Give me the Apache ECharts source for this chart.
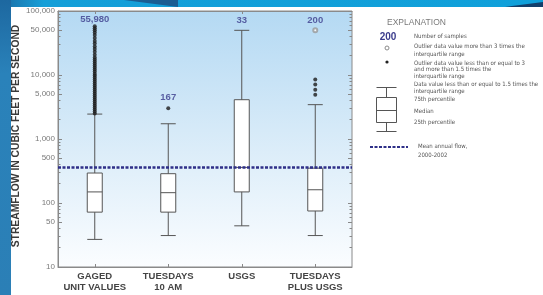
<!DOCTYPE html>
<html>
<head>
<meta charset="utf-8">
<script src="https://cdn.jsdelivr.net/npm/echarts@6/dist/echarts.min.js"></script>
<style>
  html, body { margin: 0; padding: 0; background: #fff; overflow: hidden; }
  #wrap { position: relative; width: 543px; height: 295px; }
  #chart { position: absolute; left: 0; top: 0; width: 543px; height: 295px; }
  .band { position: absolute; left: 0; top: 0; width: 543px; height: 7px; z-index: 2;
    background: linear-gradient(to right, #1c6ba3 0%, #159fd8 8%, #0fa0da 100%); }
  .wedge { position: absolute; left: 124px; top: 0; width: 54px; height: 7px; z-index: 3;
    background: #1b5d92; clip-path: polygon(0 0, 100% 0, 100% 100%); }
  .corner { position: absolute; left: 505px; top: 0; width: 38px; height: 7px; z-index: 3;
    background: #123f6b; clip-path: polygon(0 100%, 100% 30%, 100% 100%); }
  .strip { position: absolute; left: 0; top: 0; width: 11px; height: 295px; z-index: 2;
    background: linear-gradient(to bottom, #1d68a0, #2a82ba 25%, #2b7fb6 100%); }
</style>
</head>
<body>
<div id="wrap">
  <div id="chart"></div>
  <div class="band"></div>
  <div class="wedge"></div>
  <div class="corner"></div>
  <div class="strip"></div>
</div>
<script>
// 数据：各组箱线 [min, Q1, median, Q3, max]
const categories = ['GAGED\nUNIT VALUES', 'TUESDAYS\n10 AM', 'USGS', 'TUESDAYS\nPLUS USGS'];
const boxStats = [
  [27, 72, 149, 294, 2450],
  [31, 72, 145, 287, 1730],
  [44, 149, 360, 4110, 49900],
  [31, 75, 161, 350, 3440]
];
// 1.5–3 倍四分位距的离群值
const gagedOutliers = [
  2500, 2690, 2890, 3100, 3330, 3580, 3850, 4140, 4450, 4780, 5130, 5520, 5930,
  6370, 6850, 7360, 7910, 8500, 9130, 9810, 10500, 11300, 12200, 13100, 14100,
  15100, 16200, 17400, 18700, 20800, 23000, 25500, 28000, 31000, 34000, 38000,
  42000, 46000, 50000, 54000, 58000
];
const tuesdayOutliers = [3020];
const plusOutliers = [8500, 7100, 5900, 4900];
// 超过 3 倍四分位距
const plusExtremeOutliers = [50000];
const sampleCounts = ['55,980', '167', '33', '200'];
const countLabelAt = [73600, 4450, 72300, 72300];
const meanAnnualFlow = 360;
const yLabelValues = [10, 50, 100, 500, 1000, 5000, 10000, 50000, 100000];
const yMinorValues = [
  20, 30, 40, 60, 70, 80, 90,
  200, 300, 400, 600, 700, 800, 900,
  2000, 3000, 4000, 6000, 7000, 8000, 9000,
  20000, 30000, 40000, 60000, 70000, 80000, 90000
];

const sans = '"Liberation Sans", Arial, sans-serif';
const narrow = '"Liberation Sans Narrow", "DejaVu Sans Condensed", "Liberation Sans", sans-serif';
const navy = '#2e2f88';

const chart = echarts.init(document.getElementById('chart'));

/**
 * 刻度轴（与对数轴同映射的 log10 线性轴，只画刻度/标签）
 */
const tickAxis = (position, values, len, showLabel) => ({
  type: 'value',
  min: 1,
  max: 5,
  position,
  axisLine: { show: false },
  splitLine: { show: false },
  axisTick: {
    show: true,
    inside: true,
    length: len,
    customValues: values.map(Math.log10),
    lineStyle: { color: '#888' }
  },
  axisLabel: showLabel ? {
    show: true,
    customValues: values.map(Math.log10),
    formatter: (v) => Math.round(Math.pow(10, v)).toLocaleString('en-US'),
    color: '#7a7a7a',
    fontSize: 8,
    fontFamily: sans,
    margin: 3
  } : { show: false }
});

const catAxisBase = {
  type: 'category',
  data: categories,
  axisLine: { show: true, lineStyle: { color: '#8a8a8a' } },
  axisTick: { show: true, inside: true, alignWithLabel: true, length: 3, lineStyle: { color: '#888' } },
  splitLine: { show: false }
};

const legendText = (text, x, y, extra) => ({
  type: 'text',
  style: Object.assign({
    text, x, y,
    fontSize: 6,
    fontFamily: narrow,
    fill: '#555',
    verticalAlign: 'middle'
  }, extra || {})
});

const option = {
  animation: false,
  grid: {
    left: 58,
    right: 191,
    top: 11,
    bottom: 28,
    show: true,
    borderColor: '#8a8a8a',
    borderWidth: 1,
    backgroundColor: {
      type: 'linear', x: 0, y: 0, x2: 0, y2: 1,
      colorStops: [
        { offset: 0, color: '#b4d9f3' },
        { offset: 0.55, color: '#dcedf9' },
        { offset: 1, color: '#fbfdff' }
      ]
    }
  },
  xAxis: [
    Object.assign({}, catAxisBase, {
      position: 'bottom',
      axisLabel: {
        interval: 0,
        color: '#444',
        fontWeight: 'bold',
        fontSize: 9.5,
        lineHeight: 11,
        margin: 4,
        fontFamily: sans
      }
    }),
    Object.assign({}, catAxisBase, { position: 'top', axisLabel: { show: false } })
  ],
  yAxis: [
    {
      type: 'log',
      logBase: 10,
      min: 10,
      max: 100000,
      position: 'left',
      name: 'STREAMFLOW IN CUBIC FEET PER SECOND',
      nameLocation: 'middle',
      nameGap: 37,
      nameTextStyle: {
        fontSize: 10.3,
        fontWeight: 'bold',
        color: '#3a3a3a',
        fontFamily: sans,
        padding: [0, 0, 0, 6]
      },
      axisLine: { show: true, lineStyle: { color: '#8a8a8a' } },
      axisTick: { show: false },
      axisLabel: { show: false },
      splitLine: { show: false }
    },
    tickAxis('left', yLabelValues, 4, true),
    tickAxis('left', yMinorValues, 2.5, false),
    tickAxis('right', yLabelValues, 4, false),
    tickAxis('right', yMinorValues, 2.5, false)
  ],
  series: [
    {
      name: 'Streamflow',
      type: 'boxplot',
      data: boxStats,
      boxWidth: [15, 15],
      itemStyle: { color: '#fff', borderColor: '#555', borderWidth: 1 },
      emphasis: { disabled: true },
      markLine: {
        silent: true,
        symbol: ['none', 'none'],
        label: { show: false },
        lineStyle: { color: navy, type: [3, 1.5], width: 2.5 },
        data: [{ yAxis: meanAnnualFlow }]
      }
    },
    {
      name: 'Outliers',
      type: 'scatter',
      symbolSize: 4,
      itemStyle: { color: '#1c1c1c' },
      data: [
        ...gagedOutliers.map((v) => [0, v]),
        ...tuesdayOutliers.map((v) => [1, v]),
        ...plusOutliers.map((v) => [3, v])
      ]
    },
    {
      name: 'Extreme outliers',
      type: 'scatter',
      symbol: 'emptyCircle',
      symbolSize: 4,
      itemStyle: { color: '#999', borderWidth: 0.8 },
      data: plusExtremeOutliers.map((v) => [3, v])
    },
    {
      name: 'Sample counts',
      type: 'scatter',
      symbolSize: 1,
      itemStyle: { color: 'transparent' },
      silent: true,
      label: {
        show: true,
        position: 'inside',
        formatter: (p) => sampleCounts[p.dataIndex],
        color: '#3b3c8c',
        fontWeight: 'bold',
        fontSize: 9.5,
        fontFamily: sans
      },
      data: countLabelAt.map((v, i) => [i, v])
    }
  ],
  graphic: [
    legendText('EXPLANATION', 387, 23, { fontSize: 8.5, fill: '#7a7a7a', fontFamily: sans }),
    legendText('200', 388, 37, { fontSize: 10, fontWeight: 'bold', fill: '#3b3c8c', align: 'center', fontFamily: sans }),
    legendText('Number of samples', 414, 36),
    { type: 'circle', shape: { cx: 387, cy: 48, r: 2 }, style: { fill: '#fff', stroke: '#8a8a8a', lineWidth: 1 } },
    legendText('Outlier data value more than 3 times the', 414, 46),
    legendText('interquartile range', 414, 54),
    { type: 'circle', shape: { cx: 387, cy: 62, r: 1.6 }, style: { fill: '#222' } },
    legendText('Outlier data value less than or equal to 3', 414, 63),
    legendText('and more than 1.5 times the', 414, 69.5),
    legendText('interquartile range', 414, 76),
    legendText('Data value less than or equal to 1.5 times the', 414, 84.5),
    legendText('interquartile range', 414, 91),
    legendText('75th percentile', 414, 99),
    legendText('Median', 414, 111),
    legendText('25th percentile', 414, 122),
    { type: 'line', shape: { x1: 376.5, y1: 87.5, x2: 396.5, y2: 87.5 }, style: { stroke: '#555', lineWidth: 1 } },
    { type: 'line', shape: { x1: 386.5, y1: 87.5, x2: 386.5, y2: 97 }, style: { stroke: '#555', lineWidth: 1 } },
    { type: 'rect', shape: { x: 376.5, y: 97.5, width: 20, height: 25 }, style: { fill: '#fff', stroke: '#555', lineWidth: 1 } },
    { type: 'line', shape: { x1: 376.5, y1: 110.5, x2: 396.5, y2: 110.5 }, style: { stroke: '#555', lineWidth: 1 } },
    { type: 'line', shape: { x1: 386.5, y1: 122.5, x2: 386.5, y2: 131.5 }, style: { stroke: '#555', lineWidth: 1 } },
    { type: 'line', shape: { x1: 376.5, y1: 131.5, x2: 396.5, y2: 131.5 }, style: { stroke: '#555', lineWidth: 1 } },
    { type: 'line', shape: { x1: 370, y1: 147, x2: 408, y2: 147 }, style: { stroke: navy, lineWidth: 2, lineDash: [3, 1.5] } },
    legendText('Mean annual flow,', 418, 146),
    legendText('2000-2002', 418, 155)
  ]
};

chart.setOption(option);
window.addEventListener('resize', () => chart.resize());
</script>
</body>
</html>
